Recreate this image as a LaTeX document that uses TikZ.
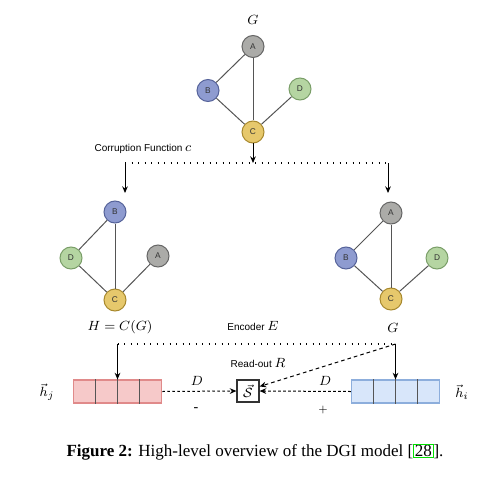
\documentclass[tikz,border=0pt]{standalone}
\usepackage{fontspec}
\setmainfont{Liberation Serif}
\newfontfamily\arialf{Liberation Sans}
\usetikzlibrary{arrows.meta,calc}
\definecolor{nA}{HTML}{ABABA8}
\definecolor{nAb}{HTML}{666666}
\definecolor{nB}{HTML}{8E9BD0}
\definecolor{nBb}{HTML}{56639A}
\definecolor{nC}{HTML}{E6C86C}
\definecolor{nCb}{HTML}{A8892E}
\definecolor{nD}{HTML}{B5D5A2}
\definecolor{nDb}{HTML}{7A9E68}
\definecolor{redf}{HTML}{F6C9C9}
\definecolor{redb}{HTML}{E08A8A}
\definecolor{bluef}{HTML}{D8E6FA}
\definecolor{blueb}{HTML}{8DAEDC}
\definecolor{edgec}{HTML}{555555}
\definecolor{linkg}{HTML}{00E000}
\begin{document}
\begin{tikzpicture}[x=0.6pt,y=-0.6pt,
  gnode/.style={circle,line width=0.6pt,minimum size=13.2pt,inner sep=0pt,
    font=\arialf\fontsize{5}{6}\selectfont,text=black!80},
  na/.style={gnode,fill=nA,draw=nAb},
  nb/.style={gnode,fill=nB,draw=nBb},
  nc/.style={gnode,fill=nC,draw=nCb},
  nd/.style={gnode,fill=nD,draw=nDb},
  edge/.style={draw=edgec,line width=0.6pt},
  sanslab/.style={font=\arialf\fontsize{6}{7}\selectfont,inner sep=0pt},
  mathlab/.style={font=\fontsize{8.5}{10}\selectfont,inner sep=0pt},
  dotline/.style={line width=0.8pt,dash pattern=on 0.8pt off 3.1pt},
  tip/.style={-{Stealth[length=4pt,width=3.4pt]}},
  vecbox/.style={rectangle,minimum width=53pt,minimum height=13.8pt,inner sep=0pt,line width=0.7pt},
  divider/.style={draw=edgec,line width=0.7pt}
]
\useasboundingbox (0,0) rectangle (504,491);

% ---- top graph G
\node[mathlab] (gtop) at (253,20) {$G$};
\node[na] (tA) at (253,46.5) {A};
\node[nb] (tB) at (208,90.5) {B};
\node[nd] (tD) at (300,89) {D};
\node[nc] (tC) at (253,132) {C};
\draw[edge] (tA) -- (tB);
\draw[edge] (tA) -- (tC);
\draw[edge] (tB) -- (tC);
\draw[edge] (tD) -- (tC);

\node[sanslab,anchor=base] (corr) at (143,151) {Corruption Function \fontsize{8.5}{10}\selectfont$c$};

\coordinate (cm) at (253,163);
\coordinate (cl) at (125,163);
\coordinate (cr) at (388,163);
\coordinate (cl2) at (125,193);
\coordinate (cr2) at (388,193);
\draw[tip,line width=0.6pt] (tC) -- (cm);
\draw[dotline] (cl) -- (cr);
\draw[tip,line width=0.6pt] (cl) -- (cl2);
\draw[tip,line width=0.6pt] (cr) -- (cr2);

% ---- left graph H
\node[nb] (lB) at (115,212) {B};
\node[nd] (lD) at (71,258) {D};
\node[na] (lA) at (158,256) {A};
\node[nc] (lC) at (115,300) {C};
\draw[edge] (lB) -- (lD);
\draw[edge] (lB) -- (lC);
\draw[edge] (lD) -- (lC);
\draw[edge] (lA) -- (lC);
\node[mathlab] (hlab) at (120,327) {$H = C(G)$};

% ---- right graph G
\node[na] (rA) at (391,213) {A};
\node[nb] (rB) at (346,258) {B};
\node[nd] (rD) at (437,258) {D};
\node[nc] (rC) at (391,299) {C};
\draw[edge] (rA) -- (rB);
\draw[edge] (rA) -- (rC);
\draw[edge] (rB) -- (rC);
\draw[edge] (rD) -- (rC);
\node[mathlab] (glab) at (393,328) {$G$};

\node[sanslab,anchor=base] (enc) at (253,330) {Encoder \fontsize{8.5}{10}\selectfont$E$};

% ---- bottom row
\node[vecbox,fill=redf,draw=redb] (red) at (117.5,391.5) {};
\node[vecbox,fill=bluef,draw=blueb] (blue) at (395.5,391.5) {};
\foreach \f in {0.25,0.5,0.75}{
  \draw[divider] ($(red.north west)!\f!(red.north east)$) -- ($(red.south west)!\f!(red.south east)$);
  \draw[divider] ($(blue.north west)!\f!(blue.north east)$) -- ($(blue.south west)!\f!(blue.south east)$);
}
\node[draw=black!80,line width=0.7pt,minimum size=13.2pt,inner sep=0pt,
  font=\fontsize{8.5}{10}\selectfont] (S) at (248,391) {$\vec{\mathcal{S}}$};

\coordinate (el) at (117.5,344);
\coordinate (er) at (395.5,344);
\draw[dotline] (el) -- (er);
\draw[tip,line width=0.6pt] (el) -- (red.north);
\draw[tip,line width=0.6pt] (er) -- (blue.north);

\draw[tip,line width=0.6pt,dash pattern=on 1.6pt off 1.4pt] (red.east) -- (S.west);
\draw[tip,line width=0.6pt,dash pattern=on 1.6pt off 1.4pt] (blue.west) -- (S.east);
\draw[tip,line width=0.6pt,dash pattern=on 2.2pt off 1.8pt] (er) -- ($(S.east)+(0,-4.5)$);

\node[mathlab] (dl) at (197,381) {$D$};
\node[mathlab] (dr) at (325,381) {$D$};
\node[mathlab] (minus) at (196,410) {-};
\node[mathlab] (plus) at (323,410) {$\scriptstyle +$};
\node[sanslab,anchor=base] (ro) at (258,367) {Read-out \fontsize{8.5}{10}\selectfont$R$};

\node[mathlab] (hj) at (47,392) {$\vec{h}_j$};
\node[mathlab] (hi) at (462,392) {$\vec{h}_i$};

% ---- caption
\setlength{\fboxsep}{0.4pt}\setlength{\fboxrule}{0.6pt}
\node[font=\fontsize{10.2}{12}\selectfont,inner sep=0pt] (cap) at (255,452)
  {\textbf{Figure 2:} High-level overview of the DGI model [\fcolorbox{linkg}{white}{28}].};
\end{tikzpicture}
\end{document}
